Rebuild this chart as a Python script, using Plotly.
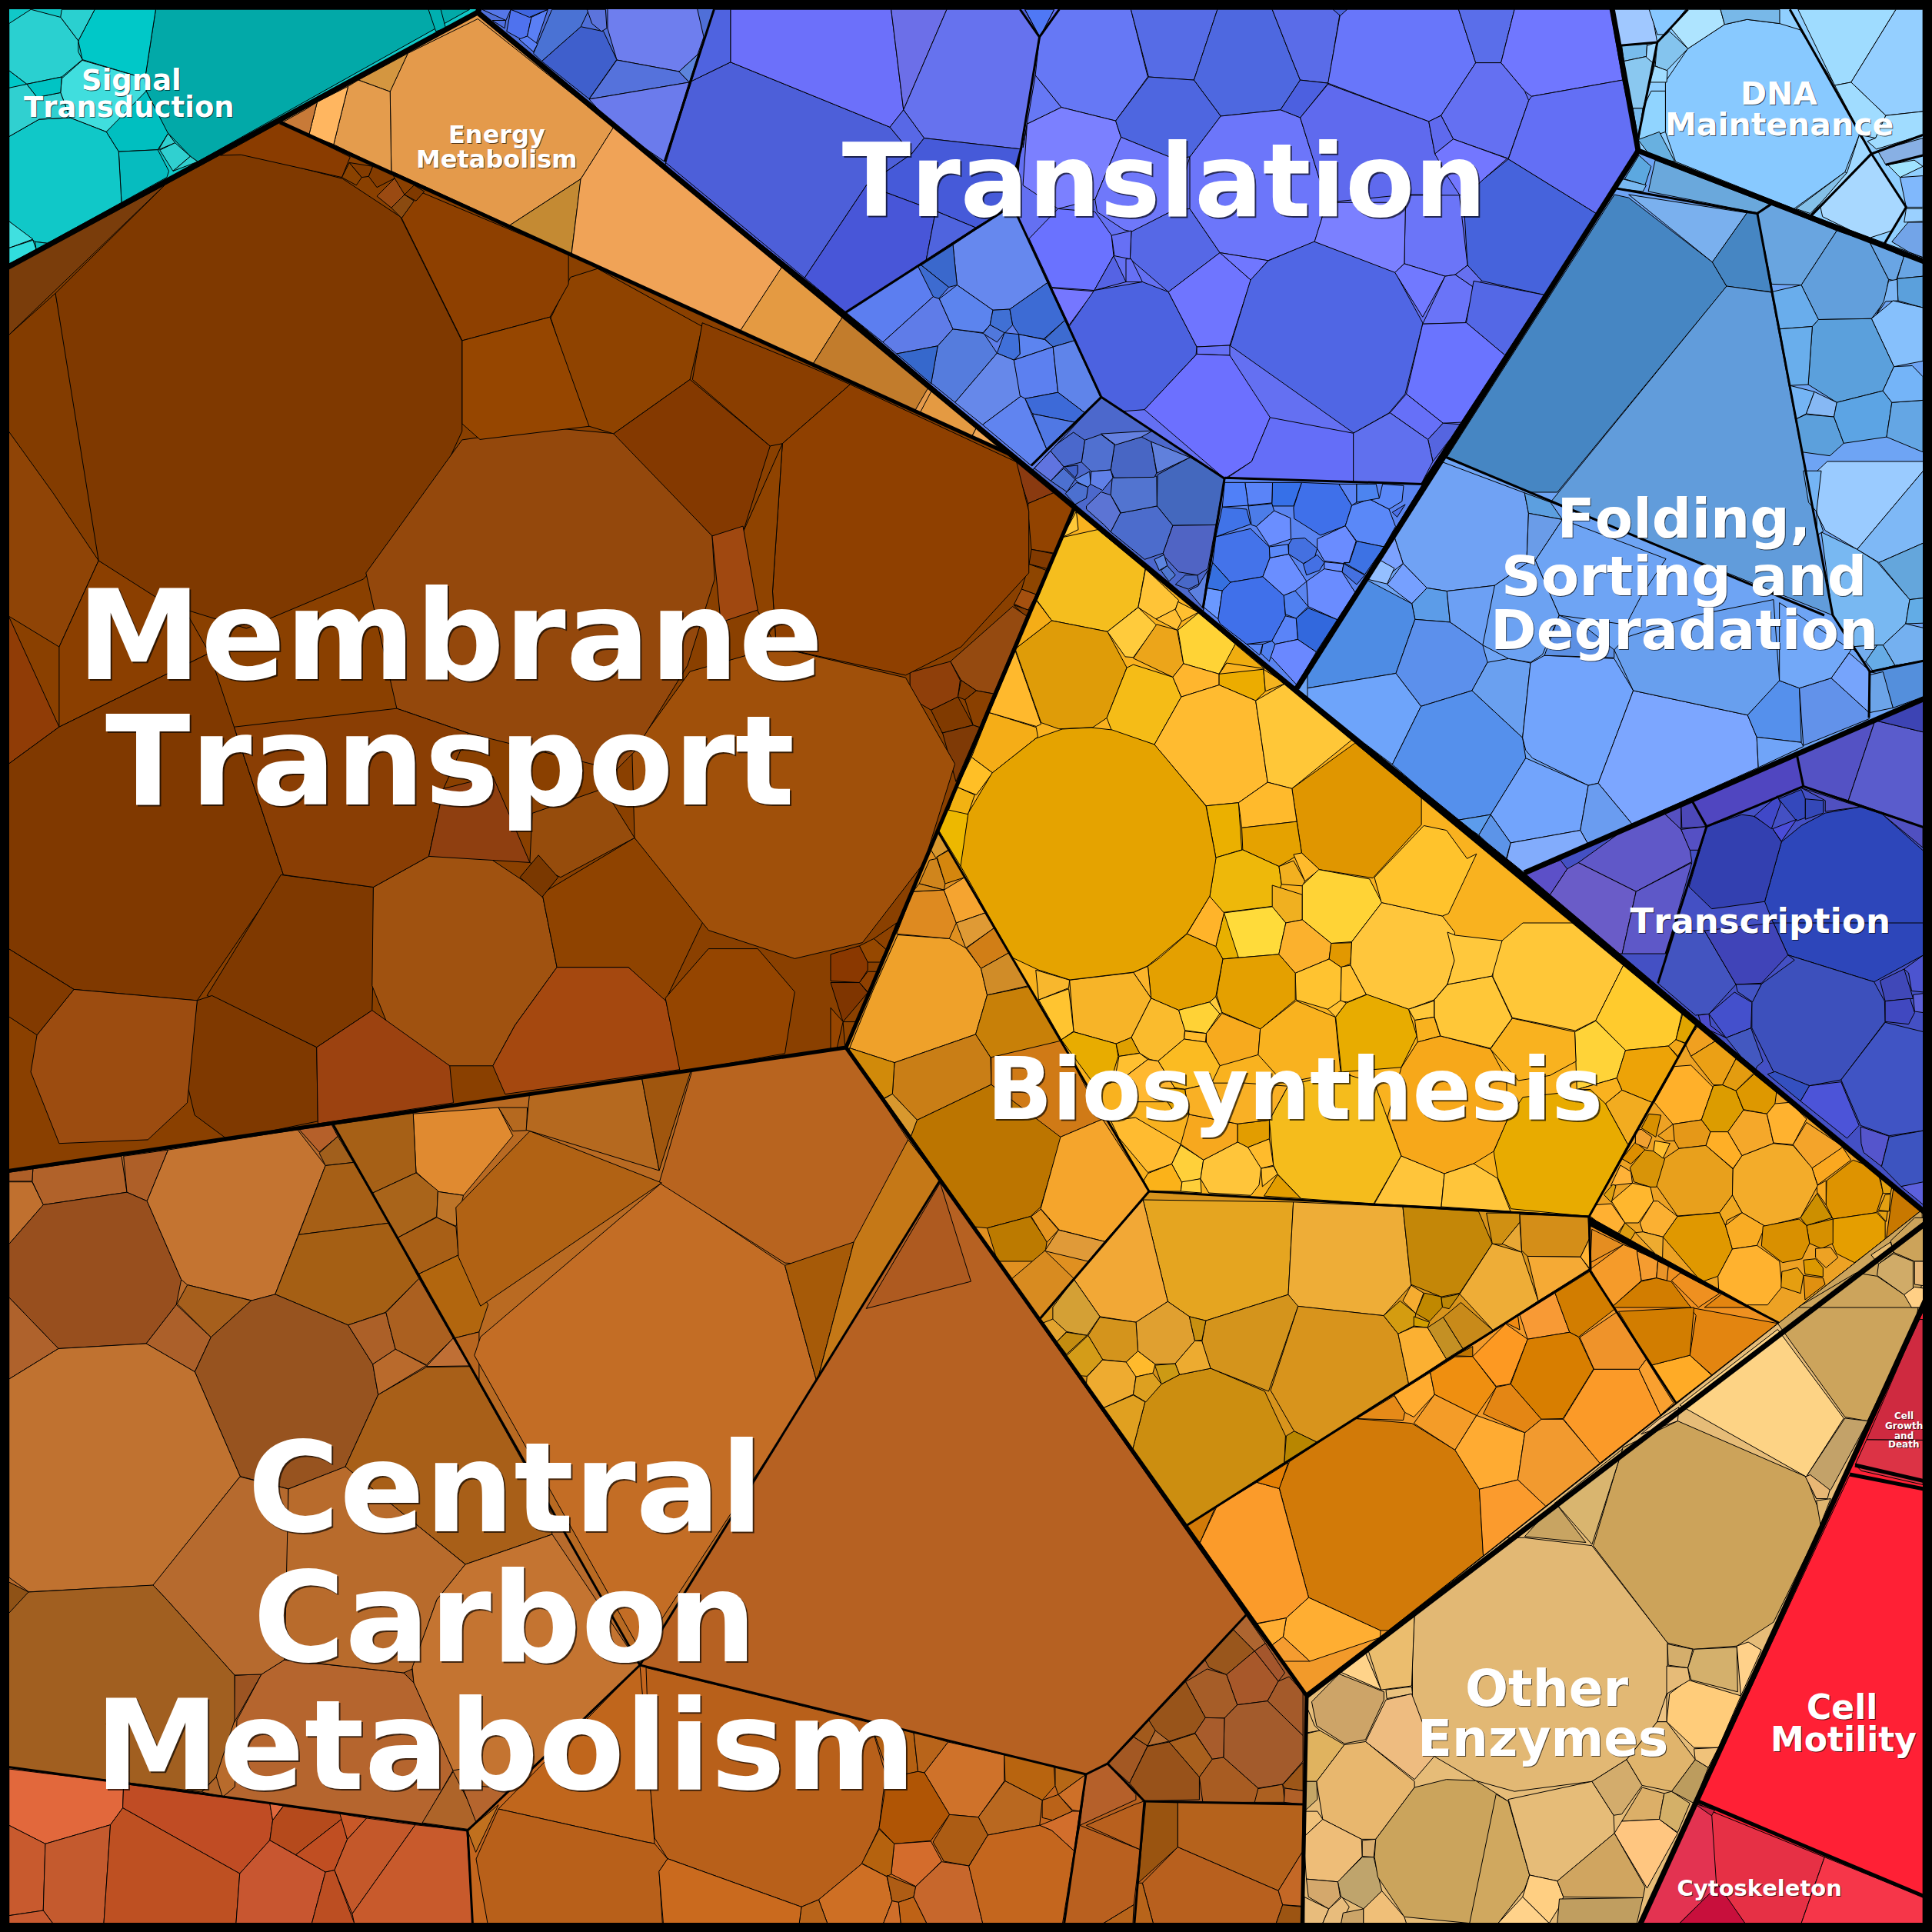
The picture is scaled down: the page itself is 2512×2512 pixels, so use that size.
# voronoi treemap of cell functions, cell outlines
import plotly.graph_objects as go

# crop panels the outlines were read from: x0, y0, x scale, y scale
panels = {
    "f": (0, 0, 1, 1), "m": (0, 0, .6242, .6242),
    "z1": (0, 0, 1.867, 2.45), "z2": (840, 0, 1.867, 2.45), "z3": (1680, 0, 1.885, 2.45),
    "z4": (1200, 560, 2.376, 2.45), "z5": (1700, 600, 1.931, 2.45), "z6": (1080, 1000, 1.867, 2.45),
    "z7": (1900, 1200, 2.562, 3), "z8": (1300, 1520, 1.96, 2.45), "z9": (1680, 1700, 1.885, 1.931),
    "z10": (0, 1440, 1.867, 2.45), "z11": (0, 2080, 1.867, 3), "z12": (840, 2080, 1.782, 3),
}

signal_z1 = [
    "#02a9a8 378,30 1140,30 480,515 462,498 405,420 355,290 352,250",
    "#00b0b0 1040,30 1070,30 1082,90 1058,100",
    "#00c8c8 230,30 378,30 352,250 200,190 190,130",
    "#2ad0d0 150,30 230,30 190,130 147,55",
    "#2ad0d0 22,75 75,30 147,55 190,130 190,165 200,190 150,245 65,268 22,225",
    "#40dede 200,192 150,250 147,295 170,375 258,420 330,340 355,290 352,250",
    "#00bfc0 258,420 355,290 408,425 383,477 288,483",
    "#06bcbf 288,483 383,477 410,545 405,565 295,645",
    "#10c8c8 22,435 95,380 170,375 258,420 288,483 295,645 115,775 85,770 22,705",
    "#30d0d0 22,275 65,268 90,310 147,295 170,375 95,380 22,435",
    "#00c8c8 22,225 65,268 22,280", "#00c4c4 65,268 150,245 147,295 90,310",
    "#40e0e0 22,705 80,762 22,790", "#30dddd 22,790 80,765 88,795 22,840", "#10c0c0 85,770 115,775 88,795",
    "#30cfcf 408,425 425,455 385,477", "#30d0d0 425,455 462,498 420,545 388,478", "#30d0d0 462,498 480,515 420,545",
]
energy_z1 = [
    "#e49a4b 990,170 1160,60 1490,405 1410,570 1237,718 950,545 947,290",
    "#d49640 870,255 990,170 947,292",
    "#e49c4d 845,275 870,255 947,292 950,550 810,460",
    "#ffb660 770,325 845,275 810,460 750,430",
    "#c87a38 740,350 770,325 750,430 685,390",
    "#c48a33 1237,718 1410,570 1387,810",
]
energy_f = ["#f0a357 798,165 1017,347 962,431 743,331 755,233"]
energy_z2 = [
    "#e49a42 330,850 478,1008 405,1160 228,1055",
    "#c27c2c 478,1008 685,1235 652,1310 405,1160",
    "#e49a42 695,1240 803,1360 790,1393 665,1315",
    "#f0a855 803,1360 890,1460 790,1393",
]
membrane_m = [
    "#7a3d0b 7,218 134,150 7,272",
    "#833c00 7,272 45,238 75,400 80,455 45,490 7,350",
    "#8f4406 7,350 43,400 80,455 48,525 7,500",
    "#903c06 7,500 48,590 7,620",
    "#8b3f00 80,455 150,495 170,530 48,590 48,525",
    "#7f3900 180,125 200,125 278,145 325,176 375,277 375,350 345,415 295,470 200,510 135,490 80,455 45,238 134,150",
    "#803900 7,620 48,590 170,530 190,590 230,710 160,812 60,803 7,770",
    "#7f3900 228,710 303,720 303,782 302,820 257,850 185,815 168,808",
    "#a05210 303,720 348,695 395,695 440,725 452,785 418,832 400,865 365,865 318,840 302,800",
    "#7f3900 160,812 172,808 257,850 258,910 185,925 158,905 152,880",
    "#9c4c10 30,840 60,803 160,812 152,895 120,925 48,928 25,870",
    "#823a00 7,770 60,803 30,840 7,825",
    "#9c4210 257,850 302,820 365,865 368,895 258,912",
    "#a5480f 418,832 452,785 510,785 540,810 552,868 410,888 400,865",
    "#8f4300 440,725 515,680 572,745 540,812 510,785 452,785",
    "#954500 540,810 575,770 615,770 645,805 637,855 552,870",
    "#a0500a 630,525 735,550 775,620 750,700 700,765 645,778 575,755 515,680 513,610 560,545",
    "#94480c 297,465 375,357 445,347 500,352 578,435 580,470 558,540 515,610 500,625 380,595 322,575",
    "#8f4300 447,258 463,225 485,218 570,265 560,308 498,352 475,345",
    "#843900 498,352 560,308 625,362 603,432 578,435",
    "#8a3e00 570,262 658,298 690,312 635,360 625,362 562,308",
    "#8f4000 635,360 690,312 825,375 835,415 835,465 780,525 735,548 630,525 627,480",
    "#8f4300 603,432 635,360 627,480 630,525 612,490",
    "#a04810 578,435 603,427 615,495 585,505",
    "#8a3e04 190,590 322,575 380,595 360,640 348,695 303,720 230,710",
    "#8f3f10 348,695 360,640 400,630 430,700",
    "#964c0c 430,700 432,660 490,640 515,680 455,712",
    "#7a3800 422,712 437,694 453,712 440,728",
]
membrane_z1 = [
    "#8e4000 975,695 1122,1085 1335,1010 1380,905 1380,810 1000,600",
    "#964600 1122,1085 1310,1020 1335,1010 1430,1358 1165,1400 1122,1350",
    "#8a3c00 535,495 585,493 830,565 850,500 680,390",
    "#8a4200 830,565 848,518 878,565 865,590", "#843c00 848,518 905,530 895,562 878,565",
    "#843c00 905,530 950,545 958,568 915,597 895,562", "#9a4a12 915,625 958,568 982,620 950,662",
    "#8a4a10 950,662 982,620 1005,640 975,695", "#7f3900 982,620 1005,590 1030,610 1010,640",
]
membrane_z4 = [
    "#8a3a10 283,100 325,232 410,195 300,90",
    "#924300 325,232 410,195 465,250 405,390 335,378 325,260",
    "#823a00 335,378 403,392 385,440 328,425", "#8e4500 328,425 382,445 350,522 305,505",
    "#a5500f 305,505 350,522 325,572 282,552", "#7f3900 280,555 328,572 318,592",
    "#954a10 277,560 320,590 218,838 165,828 118,795 85,735",
    "#8f3f0a -40,770 85,735 115,795 108,848 25,890 -40,850",
    "#7f3900 118,795 165,828 130,857 108,848",
    "#803a00 25,890 108,848 155,938 60,963", "#8a4000 130,857 165,828 218,838 175,945 155,938",
    "#7f3a06 60,963 155,938 175,945 102,1118 60,960",
]
membrane_z6 = [
    "#8a3800 0,590 70,563 90,610 90,640 70,680 0,675", "#8f4000 70,680 90,645 118,645 90,710",
    "#7f3500 0,680 70,680 90,712 30,805", "#904500 30,805 60,805 35,885", "#964500 0,760 30,805 15,890 0,890",
    "#964800 70,563 105,540 135,575 120,615 90,615", "#8e4200 105,540 160,490 135,575",
]
t1_f = [
    "#6e7eee 790,37 790,0 904,0 915,48 907,71 883,93 802,78", "#5572dc 802,78 883,93 896,107 766,129",
    "#6b7bec 766,129 896,107 864,210 798,165",
]
t1_z2 = ["#5c84dc 80,228 127,172 105,262"]
t1_z1 = [
    "#3f5fcc 1315,195 1410,85 1465,100 1497,190 1430,315",
    "#4a72d4 1295,170 1340,30 1430,30 1410,85 1315,195", "#5c74dc 1425,30 1470,30 1473,90 1460,100 1437,75",
    "#4f72ee 1230,100 1240,30 1290,55 1280,115 1265,125", "#5a7ff5 1280,115 1290,55 1330,30 1295,165",
    "#5a7ff5 1260,125 1280,115 1305,140 1295,165", "#3f66e0 1240,30 1330,30 1285,55",
    "#5577e8 1170,30 1240,30 1228,65", "#5070e0 1195,65 1228,65 1225,90",
]
t2_z2 = [
    "#4d5fd9 45,515 105,262 205,198 592,405 645,490 535,590 385,885",
    "#6c70fa 205,30 595,30 625,350 592,405 205,198", "#6c6fe8 595,30 730,30 625,350",
    "#6672ee 730,30 908,30 955,118 910,475 675,440 625,350", "#4f63e0 165,30 205,30 205,198 105,262",
    "#5868e6 625,350 675,440 645,490 592,405", "#465ad9 535,590 645,490 675,440 910,475 870,670 800,725 703,672",
    "#4856d8 385,885 535,590 703,672 680,828 485,995", "#4f64de 703,672 800,725 680,828",
]
ttop_z2 = ["#4f78f5 908,30 1003,30 955,118"]
t3_z2 = [
    "#6678f5 1003,30 1177,30 1218,245 1140,385 1008,342 945,240 955,118", "#566ce6 1177,30 1387,30 1330,255 1220,245",
    "#4e68e0 1387,30 1520,30 1568,190 1588,255 1540,350 1395,370 1330,255", "#5a6ce8 1520,30 1686,30 1656,265 1588,255 1568,190",
    "#4c60e0 1588,255 1656,265 1588,375 1540,350", "#6678f5 945,240 1008,342 925,395 915,470",
    "#7b80ff 925,395 1008,342 1140,385 1153,437 1090,635 1000,665 915,590",
    "#4e66e0 1153,437 1280,505 1320,500 1395,370 1330,255 1220,245 1140,385",
    "#6f78fa 1153,437 1280,505 1320,500 1280,670 1180,738 1160,732 1095,675 1090,635",
    "#5668e6 1178,738 1280,670 1320,665 1393,805 1268,930 1175,825",
    "#6c76fa 1395,370 1540,350 1588,375 1653,645 1623,770 1510,830 1393,805 1320,665 1320,500",
    "#6a72ff 930,760 1000,665 1090,675 1130,750 1135,815 1088,925 985,915",
    "#6670f5 1130,750 1178,735 1175,825 1137,815", "#5563e4 1088,925 1135,815 1165,898",
    "#6670f5 1165,825 1178,825 1205,898 1165,898", "#7577ff 985,918 1088,928 1027,1035",
    "#4c62e0 1027,1040 1088,925 1205,898 1268,930 1337,1105 1335,1130 1210,1305 1160,1310 1103,1265",
    "#6f75ff 1268,930 1393,805 1468,892 1417,1100 1337,1105", "#7077ff 1393,805 1510,830 1468,892",
    "#6670f5 1337,1105 1417,1100 1417,1132 1337,1128", "#6c70ff 1210,1305 1337,1128 1417,1132 1515,1330 1470,1470 1405,1525",
]
t3_f = ["#5066e4 1600,449 1626,364 1649,339 1709,314 1814,354 1850,420 1827,512 1806,537 1760,563 1599,449"]
t3_z3 = [
    "#6876fa 120,30 408,30 450,200 365,368 335,387 88,265", "#5a6eea 408,30 545,30 512,200 450,200",
    "#7077ff 545,30 780,30 810,255 587,307 570,290 512,200",
    "#4a64e0 100,30 135,30 118,50",
    "#5f6aee 20,375 88,268 335,387 350,490 375,490 335,620 278,620 85,645",
    "#6470f2 365,368 450,200 512,200 570,290 580,320 530,505 395,443", "#5f6aee 335,387 365,368 395,443 350,490",
    "#7377ff 350,490 395,443 527,505 470,570 425,630 410,620 380,560", "#636ff5 587,307 810,255 848,480 745,680 530,507 580,320",
    "#4663dc 470,570 530,507 745,680 620,940 465,895 430,845 420,630", "#6b75f8 278,622 410,622 430,845 400,875 375,880 275,840",
    "#7b80ff 55,770 85,645 278,645 275,840 252,868", "#7179ff 252,868 275,840 375,880 320,1010",
    "#6a74f8 375,880 400,875 445,915 425,1028 320,1032", "#6670f0 400,875 430,845 465,895 445,915",
    "#5468e6 445,895 620,940 525,1135 427,1028", "#6a74ff 320,1032 427,1028 525,1135 420,1345 370,1348 280,1255",
    "#6670f8 280,1255 370,1348 333,1400 240,1315", "#5565e0 333,1400 370,1348 415,1352 345,1470",
    "#6070ee 150,1380 240,1315 333,1400 345,1470 315,1545 150,1535", "#646ef8 -54,1330 150,1380 150,1535 -165,1528 -99,1470",
]
t4_z2 = [
    "#6688ee 745,780 870,670 895,670 975,900 883,985 842,988 755,908", "#3a68cc 668,845 745,780 755,908 735,915",
    "#3d6bd0 660,848 668,845 735,915 710,952 695,945", "#5c7ef0 485,995 660,848 697,945 575,1090",
    "#5f7ce8 575,1090 697,945 712,952 745,1048 708,1102 608,1127", "#557cdd 708,1102 745,1048 820,1062 852,1125 750,1282 692,1220",
    "#3668cc 608,1127 708,1102 692,1222", "#5c84ee 712,952 755,908 842,988 835,1035 818,1060 745,1048",
    "#4070d4 842,988 883,985 890,1035 870,1062 835,1035", "#3d6bd4 883,985 975,900 1017,1020 965,1080 905,1065 890,1035",
    "#3d6bd0 1017,1020 1040,1085 988,1105 968,1080", "#4070da 870,1060 905,1065 908,1128 893,1147 852,1125",
    "#5c84f0 905,1065 968,1082 988,1105 893,1147 908,1128", "#6688ea 852,1125 893,1147 910,1262 817,1353 750,1282",
    "#5c80f0 893,1147 988,1105 1000,1250 920,1270 908,1262", "#5f84ea 988,1105 1040,1085 1103,1265 1065,1315 1000,1250",
    "#3d6ad8 920,1270 1000,1250 1065,1315 1040,1345 938,1318", "#5078e4 938,1318 1040,1345 972,1430",
    "#6084f0 817,1353 910,1262 920,1270 972,1430 935,1483", "#5078dc 835,1035 870,1060 852,1090 818,1062",
]
t5_z4 = [
    "#4468be 725,140 825,85 932,150 905,300 772,302 723,240", "#4c6ccc 610,262 723,240 772,302 742,390 685,410 580,322",
    "#5274d0 585,150 722,145 723,240 612,262 580,205", "#4866c4 592,45 675,20 705,35 722,135 715,148 590,150 580,125",
    "#6080dc 705,35 825,85 723,135", "#6480e0 550,10 595,45 675,20 710,0", "#5070d0 500,30 550,12 592,45 580,125 520,130 490,100",
    "#4a68cc 390,60 465,5 500,30 490,100 435,115", "#6074e0 335,112 392,62 435,115 395,160", "#4c70d0 395,160 435,120 470,155 445,195",
    "#4060c8 437,115 478,110 478,135 470,150", "#5c84e8 470,155 515,130 518,170 510,180 480,165", "#6080e8 520,130 580,125 587,150 555,190 517,170",
    "#4c70d0 440,200 475,165 510,180 505,215 470,235", "#5c74d4 505,240 550,195 580,205 610,262 580,322 560,300 505,250",
    "#5064c4 742,390 772,302 905,300 880,440 848,460 790,450 745,400", "#4868c8 780,490 810,460 848,460 853,488 820,505",
    "#5c80e0 850,495 880,445 865,565 820,510", "#5c84e0 715,410 745,395 755,430 730,445", "#5078d0 735,445 755,430 780,460 760,480",
]
t6_z4 = [
    "#3f70ea 1145,245 1170,165 1285,170 1325,238 1305,303 1228,333 1147,280", "#3670e8 1080,165 1170,165 1145,240 1078,240",
    "#5a84f8 995,165 1080,165 1078,230 1005,238", "#5080f8 932,165 995,165 1005,238 925,243", "#4073e8 925,243 1000,250 1012,298 905,338",
    "#4c7ce8 1005,240 1078,232 1085,255 1030,305 1015,300", "#6a8eff 1030,305 1085,255 1135,278 1137,345 1070,368",
    "#4473ea 905,338 1012,312 1070,370 1072,405 1050,465 950,483 895,420", "#3670e0 880,490 895,420 950,483 925,510 870,500",
    "#6a98ff 870,500 925,510 912,600 865,560", "#4070ea 912,600 925,510 950,483 1050,465 1115,525 1120,590 1078,670 1000,680 918,615",
    "#6a8eff 1050,465 1072,405 1130,393 1185,480 1150,510 1115,525", "#5a88f8 1070,370 1128,362 1130,393 1072,405",
    "#4470e0 1130,362 1140,345 1180,342 1218,375 1210,405 1175,423 1130,393", "#6a8cff 1218,345 1305,303 1338,352 1315,425 1240,415 1218,375",
    "#5a88f8 1305,303 1325,238 1380,218 1440,250 1460,305 1425,370 1340,352", "#3d72e4 1340,352 1425,370 1365,458 1300,420 1318,420",
    "#6a8eff 1240,418 1300,424 1295,450 1240,442", "#6a8cff 1185,480 1240,440 1295,450 1335,515 1280,602 1190,560",
    "#5080f0 1115,525 1150,510 1190,560 1153,598 1120,585", "#3268dd 1153,598 1190,565 1280,602 1215,705 1158,665",
    "#5a84f8 1078,670 1120,590 1153,598 1158,665 1088,680", "#6a88ff 1070,715 1088,680 1158,665 1215,705 1155,810",
    "#5a88f8 1000,680 1050,680 1040,715", "#5080f0 1050,680 1078,670 1088,680 1070,735 1045,710",
    "#4470e4 1175,425 1218,395 1240,420 1225,445 1185,460", "#4470e0 1300,424 1340,445 1365,460 1340,490 1295,450",
    "#5a88f8 1380,218 1410,215 1420,170 1485,175 1480,225 1440,250", "#5a84f4 1285,170 1340,170 1340,228 1325,238",
    "#4c84f0 1340,170 1400,170 1410,215 1340,228", "#4c70e8 1450,260 1490,235 1465,275",
]
folding_z3 = [
    "#6aa8dc 873,610 890,510 1170,650 1140,678", "#5ca8e0 815,570 850,495 880,530 865,590", "#78b8f0 810,570 868,590 860,610 795,600",
    "#4686c3 380,1455 790,620 825,630 1030,835 1065,912 650,1568 578,1568", "#7ab0ee 825,620 1115,678 1030,835",
    "#4686c3 1030,835 1115,678 1140,680 1175,930 1065,912",
    "#69a5e0 1140,680 1175,650 1335,735 1248,908 1175,905", "#629fdc 1335,735 1415,770 1462,890 1452,960 1420,1015 1290,1018 1248,908",
    "#69a5e4 1415,770 1500,818 1480,895 1462,890", "#69a5e4 1500,815 1546,835 1546,880 1483,888", "#5ba0dc 1483,888 1546,880 1546,980 1485,958",
    "#7cb6f4 1462,895 1483,890 1485,958 1455,960 1428,1010 1450,960", "#86c0fc 1420,1015 1473,958 1546,980 1546,1150 1475,1168",
    "#5ba0dc 1290,1018 1420,1015 1475,1168 1448,1245 1335,1282 1265,1225 1275,1040", "#69adec 1175,930 1248,908 1290,1018 1275,1040 1195,1048",
    "#69aeec 1195,1048 1275,1040 1265,1225 1220,1228", "#74b4f4 1220,1228 1280,1248 1260,1318 1235,1335", "#86b8f4 1280,1248 1335,1282 1328,1328 1260,1318",
    "#5ca0dc 1235,1335 1260,1320 1328,1328 1352,1412 1318,1452 1250,1440", "#5ca4e4 1335,1282 1448,1245 1470,1282 1457,1392 1352,1412 1328,1328",
    "#64a6e4 1470,1282 1546,1275 1546,1440 1457,1392", "#74b4f8 1475,1168 1520,1165 1546,1200 1546,1275 1470,1282 1448,1245",
]
folding_f = ["#619cdb 2245,372 2303,380 2383,800 2016,653"]
folding_z5 = [
    "#9acbff 1280,30 1305,0 1546,0 1546,30 1380,280 1300,220 1278,165", "#7eb8f6 1380,280 1546,30 1546,260 1435,322", "#64a6dc 1435,322 1546,260 1546,435 1512,440",
    "#78b8f2 1290,225 1380,280 1430,320 1512,440 1502,517 1445,585 1365,590 1318,490", "#62ace6 1512,440 1546,435 1546,515 1502,517",
    "#74b0f0 1445,585 1502,517 1546,530 1546,635 1475,650", "#66ace6 1400,635 1430,585 1445,585 1475,650 1420,668", "#74adee 1365,590 1430,585 1400,640",
    "#74b4f4 1245,30 1290,30 1278,160 1258,130", "#7ab8f4 1278,160 1295,222 1280,235",
    "#70a2f4 335,0 545,100 555,165 550,325 470,395 350,413 300,403 240,325 218,240 340,0", "#5c9fe0 545,100 610,130 640,185 555,165", "#6a9ce8 555,165 640,185 572,315 550,325",
    "#7ca2ff 218,240 240,325 200,365 183,315", "#94bfff 183,315 218,340 200,390 150,375", "#76a0ff 240,325 300,403 262,453 200,392",
    "#5c9ce8 300,403 350,413 358,512 270,503 262,453", "#6ca0f4 350,413 470,395 470,560 440,585 358,512", "#4e8ce4 150,378 262,453 270,503 222,675 0,722 0,665",
    "#5c90ec 270,503 358,512 440,585 452,640 413,730 285,780 222,675", "#6ea4fa 0,722 222,675 285,780 213,965 0,760",
    "#5590ec 285,780 413,730 540,880 548,945 460,1125 375,1143 213,965", "#6aa0f0 413,730 452,640 505,628 560,642 540,880",
    "#72a4fc 560,642 595,618 770,628 818,730 730,1025 705,1032 565,945 548,920 540,880", "#7ca6ff 818,730 1105,808 1128,878 1132,975 815,1155 730,1025",
    "#689fee 770,600 800,560 975,490 1170,440 1185,700 1105,808 818,730", "#5590ec 1105,808 1185,698 1235,722 1240,895 1128,878",
    "#6292ea 1235,722 1315,690 1410,800 1410,820 1245,905", "#76a4fc 1315,690 1360,610 1410,665 1410,800", "#72a8f8 1185,450 1365,600 1315,690 1235,722 1185,698",
    "#70a4f8 1128,878 1240,895 1245,908 1132,975", "#72a4fc 460,1125 548,945 705,1032 685,1175 510,1215", "#6a9cf0 705,1032 730,1025 815,1155 705,1220 685,1175",
    "#82acfc 510,1215 685,1175 705,1220 545,1312 498,1280", "#5c94e8 430,1190 460,1125 510,1215 498,1270", "#5c9cec 375,1143 460,1125 430,1190",
    "#6ea4f4 572,315 640,185 900,310 835,435 800,520 632,490", "#6ca2f2 470,395 550,325 572,315 632,490 590,615 560,640 505,628 440,585",
    "#5c90e4 632,490 690,520 770,600 770,625 595,618", "#548fdc 1412,670 1475,650 1546,635 1546,750 1470,785 1445,680", "#6ca4e8 1412,680 1445,670 1470,785 1412,800",
]
dna_z3 = [
    "#88c9ff 915,260 970,155 1060,78 1115,62 1195,75 1245,95 1340,290 1390,430 1355,548 1230,665 940,515 915,420 915,350",
    "#aee4ff 925,85 965,30 1050,30 1060,78 970,155", "#78b8e8 1050,30 1195,30 1195,75 1115,62 1060,78", "#84c4ee 895,135 925,100 970,155 918,225 890,210",
    "#9fdcff 1240,30 1480,30 1370,262 1330,272", "#94cfff 1480,30 1546,30 1546,355 1455,368 1370,262", "#a0dcff 1330,272 1370,262 1455,368 1430,440 1395,430",
    "#a0dcff 1455,368 1546,355 1546,430 1432,475 1410,450 1430,440", "#88b0e4 1435,480 1546,440 1546,495 1455,525", "#a8d8ff 1420,490 1505,660 1470,735 1410,760 1300,690 1295,660",
    "#84c0e8 1235,665 1355,548 1365,555 1270,680", "#a0d8ff 1360,550 1390,430 1420,485 1295,655 1270,685", "#a0e4ff 1460,525 1525,510 1546,530 1490,565",
    "#80b8fc 1490,565 1546,560 1546,660 1505,660", "#9ad0ff 1505,665 1546,665 1546,705 1500,708", "#72a4e8 1470,770 1510,708 1546,708 1546,830",
    "#a0c8ff 785,30 880,30 895,135 803,145 788,70", "#78bcec 808,145 870,140 868,180 813,195", "#8ac8f0 813,195 868,180 888,205 878,262 860,345 830,345",
    "#a0d8ff 870,145 895,135 888,205 868,182", "#78bcec 835,345 860,345 848,440", "#90d4ff 850,445 860,345 880,290 915,290 915,420 850,450",
    "#68b0e0 848,445 900,420 938,515 880,500", "#a0dcff 878,262 888,210 920,225 918,262", "#88c8ff 875,30 965,30 915,110 895,110",
]
trans_z5 = [
    "#5046c0 965,1080 1228,930 1245,1035 1002,1163", "#5452c4 1228,930 1425,825 1358,1080 1245,1035", "#5a5ccc 1425,825 1546,862 1546,1165 1358,1080",
    "#3d44b4 1425,825 1500,785 1546,752 1546,862", "#6058c8 815,1155 895,1120 938,1172 960,1235 965,1275 825,1370 680,1278",
    "#6a5cc8 608,1382 652,1298 680,1278 825,1370 790,1568 780,1568", "#5c50c8 545,1315 635,1270 652,1298 608,1382", "#5e58c8 825,1370 965,1278 900,1568 790,1568",
    "#5550c0 895,1120 938,1090 938,1172", "#4c48b8 938,1090 965,1080 1002,1163 940,1168", "#5550c4 938,1172 1002,1163 982,1238 960,1238",
    "#2d46ba 1190,1212 1240,1160 1300,1120 1390,1100 1440,1120 1546,1240 1546,1568 1200,1568 1148,1402", "#3340b0 958,1355 1003,1163 1090,1125 1120,1130 1168,1170 1190,1212 1148,1402 1015,1425",
    "#4048c8 1122,1130 1180,1065 1188,1090 1165,1170", "#3448bc 1183,1075 1240,1045 1250,1075 1250,1135 1228,1145 1198,1100", "#4a4cd8 1168,1170 1228,1140 1190,1210",
    "#3448b8 1250,1075 1295,1080 1295,1120 1250,1140", "#5050c0 1240,1040 1545,1165 1545,1230 1440,1120 1390,1100 1300,1115 1300,1080",
]
trans_z7 = [
    "#2d46ba 1040,0 1540,0 1540,125 1375,230 1088,125", "#4354c0 655,235 710,30 810,30 915,240 825,355 780,360", "#4044b8 810,30 1040,0 1088,125 1000,235 915,240",
    "#3d50bc 1088,125 1375,230 1410,305 1412,385 1265,612 1160,635 1040,580 968,410 968,310 1000,238 1110,145", "#4354c4 915,240 1000,238 970,308 920,268",
    "#4450cc 825,355 910,270 968,310 965,410 882,448", "#4c4ccc 790,360 825,355 830,400 882,448 830,420 800,400", "#4358c0 882,448 965,410 1005,540 985,560 975,585",
    "#3450c0 1045,580 1160,635 1130,695 1020,590", "#4c54d8 1160,635 1265,620 1325,790 1285,840 1130,695", "#4054c4 1265,612 1412,388 1540,425 1540,810 1425,830 1330,790",
    "#5555cc 1330,795 1425,832 1400,950 1340,895 1332,860", "#3d54c0 1425,835 1540,810 1540,1015 1465,1028 1400,950", "#5c60dc 1465,1028 1540,1010 1540,1100",
    "#4048b8 1395,225 1475,180 1495,255 1505,295 1412,305", "#4048c0 1412,305 1495,295 1510,350 1490,395 1412,385", "#5c60d8 1505,280 1540,275 1540,350 1510,345",
    "#4c54d0 1475,180 1540,125 1540,270 1500,265 1490,195",
]
yellow_f = [
    "#e5a300 1290,1005 1347,960 1381,948 1419,946 1446,949 1501,968 1568,1048 1581,1116 1573,1165 1543,1214 1492,1256 1474,1264 1391,1274 1350,1261 1316,1245 1249,1126 1259,1057",
    "#f7a81a 1843,1355 1873,1347 1938,1364 1959,1403 1959,1458 1942,1497 1916,1513 1878,1526 1822,1503 1804,1453 1822,1388",
    "#ffc738 1882,1280 1940,1269 1966,1324 1938,1363 1873,1347 1865,1322 1865,1300",
    "#ffc83c 1882,1212 1892,1216 1953,1223 1940,1269 1882,1280 1891,1249",
    "#ffc53a 1874,1569 1878,1526 1916,1513 1947,1532 1964,1575",
]
yellow_z4 = [
    "#f5be1e 430,340 540,315 687,440 665,562 570,640 398,605 352,540", "#df9c08 398,605 570,640 630,755 568,915 525,945 420,950 365,930 285,695",
    "#ffcb3c 570,640 665,563 722,620 650,722 625,720", "#ffc437 688,440 790,540 780,570 720,600 665,563", "#eca51a 650,725 722,617 785,635 805,742 772,785",
    "#ffbf34 720,600 780,568 800,605 785,635", "#ffc030 780,570 788,545 852,578 800,607", "#ffd336 788,635 852,580 965,680 938,740 915,775 805,742",
    "#f5bc17 630,755 650,745 772,785 798,848 715,1000 583,955 568,915", "#ffb62e 772,785 805,742 915,775 915,810 798,848", "#ecac00 915,775 1052,760 1058,830 1028,860 915,810",
    "#f0ad10 965,680 1055,758 938,740 915,775", "#f5b41f 1052,760 1120,805 1058,830", "#ffbb30 798,848 915,810 1028,860 1065,1120 975,1185 875,1195 715,1000",
    "#ffc738 1028,860 1120,805 1325,985 1140,1140 1065,1120", "#e09600 1140,1140 1335,995 1540,1170 1540,1255 1390,1425 1225,1398 1170,1345",
    "#ffba2c 975,1185 1065,1120 1140,1140 1155,1245 985,1265", "#e5a200 985,1265 1155,1245 1170,1345 1100,1388 988,1335", "#ebb000 875,1195 975,1185 985,1335 905,1360",
    "#eeb80a 905,1360 988,1335 1100,1388 1108,1445 1080,1515 925,1535 885,1490", "#f2b020 1100,1388 1145,1370 1180,1435 1172,1450 1108,1445", "#ffbb2c 1145,1350 1170,1345 1225,1398 1180,1435",
    "#f5ad17 205,898 350,945 355,975 215,1090 150,1040", "#ffb92d 285,700 365,935 350,942 205,898", "#f5ad17 350,540 398,605 285,695",
    "#ffbf26 105,1135 150,1040 215,1090 165,1160", "#f2b212 65,1250 105,1135 160,1160 140,1220", "#edb800 50,1275 65,1205 140,1222 118,1390", "#ffc838 430,340 480,315 475,255",
]
yellow_z6 = [
    "#ffdb3a 952,605 935,560 955,458 1073,438 1105,490 1088,590", "#e8b000 955,458 990,600 952,605 935,565", "#ffb42a 920,405 955,458 935,565 865,525",
    "#f0b020 1072,370 1145,400 1145,480 1105,490 1072,438", "#ffd336 1145,370 1185,320 1308,350 1338,425 1265,550 1215,555 1145,480", "#fbb12d 1105,490 1145,480 1215,555 1210,605 1128,650 1088,590",
    "#e29800 1215,555 1265,553 1262,620 1240,632 1210,605", "#ffc63c 1338,425 1485,468 1515,520 1515,610 1497,685 1465,735 1403,765 1300,718 1262,625 1265,550",
    "#ffc32c 1337,425 1320,345 1440,180 1495,195 1545,285 1568,270 1500,460 1485,468",
    "#ffc330 1128,650 1210,605 1240,632 1238,745 1207,765 1130,735", "#ffc030 1240,630 1262,625 1300,718 1255,742 1238,740", "#ffc030 1207,765 1238,737 1252,745 1226,790",
    "#e4a000 952,605 1088,590 1128,650 1128,735 1043,828 950,775 937,720", "#e4a000 800,600 865,525 935,565 952,605 935,725 920,742 845,768 778,730 770,628", "#fbb42a 735,648 770,628 778,730",
    "#f7b428 580,672 735,648 778,730 730,855 693,875 590,837", "#ffc430 505,735 578,700 590,835 560,862", "#f8b72d 498,640 580,672 578,697 505,735",
    "#fabb2d 730,855 778,730 845,768 860,830 858,860 795,930 775,925 750,905", "#ffd236 845,768 920,742 945,778 912,842 860,832", "#ffcb3a 920,742 935,725 950,775 945,780",
    "#ffbb2c 860,835 912,842 910,870 858,860", "#f7aa1e 912,870 945,945 1038,910 1043,828 950,778 912,842", "#f9b21f 1043,828 1130,738 1225,790 1238,965 1100,1000 1038,910",
    "#e8ac00 1226,790 1252,745 1302,718 1403,765 1423,850 1385,950 1240,965", "#ffc83a 1403,765 1465,738 1465,790 1418,800", "#f9b21f 1418,800 1465,790 1480,850 1425,870",
    "#e8ac00 560,862 590,837 693,875 698,915 690,950 680,1000 640,1005", "#dfa000 693,875 730,855 750,905 700,915",
    "#ffc030 700,915 750,905 770,925 720,975 693,965", "#fbbb22 795,930 858,860 912,870 945,945 925,1000 860,1020 835,1015", "#ffb830 770,925 795,930 835,1015 810,1060 735,1060 720,975",
    "#ffbb30 680,1120 740,1110 850,1195 828,1258 770,1285 700,1175", "#ffd03a 828,1258 850,1198 905,1245 898,1305 853,1318", "#fbb219 770,1288 828,1258 853,1318 850,1345 773,1345 760,1310",
    "#ffcf3a 853,1315 898,1305 900,1350 850,1345", "#ffc53a 905,1245 988,1188 1015,1205 1045,1270 1040,1325 1020,1358 918,1350 898,1305", "#f7a81e 850,1195 870,1100 988,1130 988,1188 905,1245",
    "#e29d00 988,1130 1065,1118 1065,1178 1013,1205 988,1188", "#ffbb2c 1013,1205 1065,1178 1075,1262 1045,1272", "#ffbf30 1045,1272 1075,1265 1085,1290 1048,1330", "#e29d00 1052,1360 1085,1292 1142,1368",
    "#f5bc1c 1065,1118 1110,1010 1235,965 1320,1000 1385,1232 1318,1385 1142,1368 1085,1290 1075,1262", "#ffc53a 1320,1385 1385,1232 1490,1288 1482,1395",
    "#f9b025 860,1020 925,1000 1005,1000 1110,1010 1065,1118 988,1130 870,1100", "#e0a000 795,1015 860,1020 870,1100 830,1085",
]
yellow_z7 = [
    "#ffc738 105,210 170,370 380,420 448,380 540,165 375,0 205,0 135,70 105,150", "#ffcb2d 448,380 540,165 735,352 715,455 690,480 547,497", "#ffd338 378,425 448,382 547,497 518,605 385,650",
    "#f9b21f 170,372 378,425 382,540 295,595 190,615 97,492", "#eda307 518,605 547,497 690,480 722,525 635,700 535,652",
    "#e1a500 715,455 738,352 785,395 745,468", "#f2a719 690,480 715,455 745,470 722,520", "#f2ac20 480,705 535,652 635,700 555,865", "#f9b21f 385,650 518,605 535,652 480,705 455,710 430,650",
    "#e8ab00 108,892 150,775 205,680 430,650 480,705 555,865 425,1145 165,1115 122,995",
]
left_z6 = [
    "#efa12a 38,885 55,845 163,528 288,540 328,570 365,635 380,720 352,845 155,935", "#de8a20 160,525 200,390 275,385 305,490 288,540", "#f5a430 275,385 325,345 375,458 305,490",
    "#df9a35 305,490 375,458 398,505 328,570", "#d17e16 330,570 398,505 433,585 365,635", "#d08c28 365,635 433,585 480,690 380,720", "#c88008 380,720 480,693 560,865 500,925 388,918 352,845",
    "#c97e16 155,935 352,845 388,918 390,1005 210,1118 150,1035", "#d18a0a 38,885 155,935 150,1035 130,1048", "#d8982e 130,1050 150,1035 210,1118 195,1170",
    "#bc7500 195,1170 210,1118 390,1005 560,1170 510,1395 485,1425 380,1462 350,1458", "#d07a16 390,918 560,865 660,1115 558,1172 390,1005", "#f5a52c 558,1172 660,1115 773,1345 665,1505 555,1468 510,1400",
    "#bc7a00 380,1462 485,1425 525,1505 522,1530 500,1568 405,1568", "#e59520 487,1425 510,1402 553,1468 525,1507", "#e09a38 553,1468 665,1505 625,1568 520,1535",
    "#d0851c 215,365 240,290 258,285 278,365 275,385", "#d4860e 258,280 288,258 325,345 278,365", "#d8982e 240,250 260,198 288,255 255,282", "#d0851c 200,390 215,365 275,385",
]
left_z8 = ["#d88b20 30,350 115,260 188,348 100,478"]
gold_z8 = [
    "#e5a520 365,98 748,105 735,400 525,483 483,470 428,422", "#eead37 748,105 1027,120 1048,370 978,467 758,437 735,400", "#c48708 1027,120 1220,135 1255,238 1172,395 1125,407 1048,368",
    "#f2a836 365,98 428,422 347,488 255,470 188,350", "#e0a030 428,422 483,470 497,547 447,620 396,622 352,580 347,488", "#d4941c 525,483 735,400 760,437 685,708 537,635 515,550",
    "#d8941c 760,437 978,467 1015,525 1042,685 808,870 750,835 690,705", "#cc8e10 537,635 675,708 728,850 725,935 475,1135 338,895 370,742 412,685 458,655", "#c89010 483,470 525,483 515,545 497,547",
    "#edab30 497,547 515,548 537,635 458,655 447,620", "#b88600 730,850 750,835 808,870 725,935", "#d4941c 255,472 347,488 352,580 322,615 262,607 225,530", "#d4a035 135,440 188,350 255,470 222,530 170,518 135,480",
    "#c48c10 170,520 222,530 170,590 145,550", "#d49c18 170,595 225,530 262,607 222,660 200,658", "#eeab30 222,662 262,608 322,615 347,660 340,718 262,762 220,690", "#ffba2c 322,615 352,580 396,622 390,650 347,662",
    "#dda020 347,662 390,650 412,685 372,742 340,718", "#cc9a14 395,625 447,620 458,655 412,685", "#e0a020 262,762 340,720 370,742 338,895", "#e2a32e 110,490 135,478 170,518 145,550",
    "#d49c10 978,467 1020,420 1060,460 1055,500 1015,525", "#f5ac30 1027,420 1048,370 1080,395 1060,460", "#c08800 1060,460 1082,395 1125,407 1128,440 1095,485", "#bc8606 1125,410 1172,398 1145,445 1128,440",
    "#d4a000 1055,470 1095,488 1090,505 1055,500", "#fbb032 1015,525 1055,503 1090,505 1138,605 1042,685", "#c49024 1090,505 1130,472 1180,572 1138,605", "#c88a1a 1130,472 1175,425 1258,515 1180,572",
    "#eead37 1172,398 1255,238 1330,265 1372,420 1258,515", "#d09012 1240,140 1325,140 1325,170 1280,240 1255,238", "#e8a835 1325,170 1330,265 1280,238", "#d48e18 1325,145 1500,150 1505,215 1480,280 1345,278 1330,260",
    "#f5aa35 1345,278 1480,280 1503,320 1372,420", "#ffb434 1480,280 1505,215 1505,320",
]
low_z8 = [
    "#d27a08 712,1015 738,932 905,795 1050,810 1160,895 1222,1020 1232,1232 990,1470 970,1470 787,1365", "#fb9b2a 510,1190 553,1075 655,998 712,1018 787,1365 730,1430 652,1448", "#d27a08 470,1135 550,1075 510,1190",
    "#e37e04 655,998 735,935 712,1018", "#ffae32 730,1430 787,1365 970,1470 970,1492 790,1568 722,1490", "#ffae32 650,1450 730,1430 722,1490 690,1520", "#f59c30 690,1520 722,1490 790,1568 715,1568",
    "#e68a18 910,795 1005,722 1032,775 1028,800", "#ffab2f 1005,720 1097,648 1108,718 1055,790 1032,775", "#f49c28 1055,810 1108,718 1215,785 1160,895", "#ef8f10 1108,718 1097,648 1160,598 1205,597 1265,695 1215,785",
    "#bf7400 1160,595 1205,565 1205,597", "#fd9922 1205,597 1288,492 1345,542 1300,685 1265,692", "#f08a12 1290,490 1320,465 1325,512", "#f89a35 1325,465 1415,395 1452,520 1345,542",
    "#d27d00 1415,395 1505,325 1568,445 1475,535 1452,520", "#d87e00 1345,542 1452,520 1475,535 1513,637 1435,795 1380,797 1302,685", "#e48614 1265,695 1302,685 1380,797 1338,840 1232,780",
    "#ffab32 1160,895 1215,785 1338,840 1320,990 1222,1020", "#f29a2f 1338,840 1380,797 1435,797 1530,938 1392,1075 1320,990", "#fb9b2d 1222,1020 1320,990 1392,1075 1232,1235",
]
low_z9 = ["#fb9a28 665,280 740,155 850,155 903,270 755,392", "#ef932a 705,75 795,12 868,130 850,155 740,155", "#f9a030 850,155 868,130 935,240 903,270"]
small_z9 = ["#ffab26 880,145 975,120 1028,170 940,240", "#e38510 975,120 990,20 975,0 1190,40 1030,170", "#d27d00 800,10 985,0 975,120 880,145"]
small_z7 = [
    "#f59b2a 430,1350 540,1255 585,1275 600,1395 505,1495", "#e58d20 435,1195 540,1255 430,1325", "#f59c30 585,1280 655,1315 650,1385 600,1395", "#eb9428 655,1320 690,1335 685,1395 650,1385",
    "#ef9020 700,1395 730,1365 860,1445 790,1500", "#d27d00 500,1500 600,1398 650,1385 700,1400 765,1500", "#e38510 810,1500 870,1445 960,1500",
]
cluster_z7 = [
    "#f0a020 790,400 850,458 765,520 745,470", "#eba015 765,520 850,458 895,490 915,530 870,632 840,632", "#e39c10 915,530 975,585 915,655 870,632", "#ffb02a 710,560 765,555 838,640 800,768 705,785 643,700",
    "#dc9c00 800,768 840,635 870,632 915,655 940,730 888,815 830,815", "#de9800 915,655 975,590 1050,660 1045,705 1018,745 940,728", "#f5a82a 940,730 1018,745 1040,860 935,908 888,815",
    "#ffb22f 1018,745 1045,705 1095,700 1150,765 1105,865 1040,858", "#f4a42a 1105,865 1150,778 1275,875 1168,957", "#faa820 1168,957 1270,875 1298,925 1187,1022",
    "#de9300 1217,1005 1305,925 1385,960 1405,1050 1383,1130 1238,1155 1215,1100", "#f8a820 1185,1025 1215,1005 1215,1100 1185,1050", "#e59e00 1238,1155 1383,1130 1412,1165 1412,1235 1310,1325 1250,1290 1235,1250",
    "#d69000 1150,1180 1238,1155 1238,1250 1200,1270 1160,1250", "#cc8f00 1130,1150 1185,1055 1235,1150 1150,1180", "#c87800 1415,1235 1440,1030 1535,1120",
    "#e0a010 1395,990 1435,1025 1430,1055 1405,1055", "#e4a012 1412,1060 1430,1058 1425,1125 1390,1120", "#e4a012 1385,1125 1420,1125 1415,1165", "#e59818 705,785 800,768 830,815 815,868 725,880 705,840",
    "#e8a01c 650,1025 675,920 725,880 815,868 905,960 903,1062 860,1130 720,1143", "#ffaf26 815,868 830,815 888,815 935,908 905,958", "#f3ac2a 905,960 935,908 1040,860 1105,868 1168,955 1187,1025 1130,1150 1012,1183 935,1130 903,1062",
    "#e09800 720,1145 860,1130 880,1180 903,1272 855,1378 800,1400 672,1225", "#f9ac24 880,1180 935,1130 1012,1183 985,1258 903,1272", "#f0a820 860,1130 903,1062 935,1130 885,1160 880,1180",
    "#d99000 1005,1183 1125,1155 1150,1180 1160,1250 1135,1310 1070,1325 1000,1260", "#ffb22f 855,1378 903,1272 985,1258 1060,1320 1068,1420 1020,1490 860,1490", "#e59e10 1068,1360 1120,1345 1140,1375 1130,1445 1065,1420",
    "#e09010 1140,1375 1205,1385 1212,1410 1145,1470", "#dc9800 1140,1315 1180,1310 1205,1345 1205,1380 1145,1370", "#eda224 1180,1270 1230,1265 1255,1305 1215,1345 1180,1305", "#ffb72e 500,1085 570,1015 630,1030 640,1085 590,1170 545,1170",
    "#ffb032 425,1140 445,1100 500,1095 545,1170 515,1220", "#fbb032 595,1170 640,1085 655,1085 720,1145 672,1225 605,1205", "#eeab30 580,1208 605,1205 672,1225 670,1320", "#dc9c10 525,1215 545,1170 580,1205 560,1245",
    "#d89408 562,955 610,885 640,890 678,920 650,1030 630,1030 575,1010", "#ffb238 498,1025 530,945 565,970 570,1015", "#de8e00 565,940 535,920 580,855 612,885", "#f0a030 580,810 600,805 635,835 620,880 580,860",
    "#d89000 600,800 625,745 665,750 648,835", "#eda020 655,830 705,785 710,850 680,850", "#ffc030 640,890 645,850 695,860 672,918", "#dea010 475,1060 505,1020 515,1025 500,1090",
]
s1_f = [
    "#b66a2e 312,1920 375,1936 375,2080 370,2158 340,2177 305,2178 217,2080 199,2061",
    "#b86b2c 375,1936 449,1907 605,2034 568,2080 536,2170 525,2175 370,2158",
    "#c47431 605,2034 718,1995 832,2165 771,2233 670,2327 600,2300 589,2302 538,2188 536,2168 568,2080",
    "#a15f20 37,2070 199,2061 217,2080 305,2178 305,2237 281,2310 262,2330 0,2297 0,2097",
    "#8f5216 0,2051 37,2070 12,2097 0,2097",
]
s1_z10 = [
    "#b1622a 80,195 295,155 308,270 105,310 78,235", "#ae5f28 300,155 408,135 357,298 308,270", "#ae5f28 22,205 80,195 78,235 22,235", "#c0702f 22,237 78,237 105,310 22,435",
    "#984f1e 22,435 105,310 308,270 357,298 440,548 428,628 355,752 142,768 22,605", "#c47431 357,298 408,135 722,70 790,185 725,405 668,595 612,615 455,565 440,548", "#b5602a 725,68 805,55 820,92 775,142",
    "#a15f1c 775,145 820,92 858,175 790,185", "#a65f16 725,405 790,185 858,175 945,368", "#a55f14 668,595 725,405 945,368 1017,545 935,653 845,693", "#a65f1c 430,625 455,565 610,615 512,732",
    "#ac602a 355,752 428,628 512,732 473,842", "#97531f 473,842 512,732 610,615 668,595 845,693 905,818 918,915 838,1145 700,1215 583,1175", "#ac6028 845,693 937,653 960,770 905,818", "#ab6020 937,653 1017,545 1100,735 1035,820 960,770",
    "#b96a2c 905,818 960,770 1035,822 918,915", "#bf6f35 1035,825 1100,735 1140,823", "#a85f18 918,915 1035,827 1140,825 1340,1295 1340,1360 1130,1455 838,1145", "#af622c 22,605 142,768 22,865",
    "#c07230 22,865 142,768 355,752 473,842 583,1175 372,1522 70,1543 22,1497",
]
s1_z11 = [
    "#9c5422 570,295 635,290 568,480", "#b5652e 635,290 690,235 980,285 1005,325 1100,665 1025,875 540,770 570,730 575,470",
    "#96501c 980,285 1000,265 1005,325", "#ae6429 1100,670 1120,735 1160,860 1135,895 1025,870",
    "#b5652e 1120,720 1250,740 1155,865", "#ae6429 525,690 490,750 540,768",
]
s2_m = [
    "#c36d25 390,1085 537,960 637,1027 663,1122 520,1340 385,1100", "#b8641f 535,960 562,868 687,850 737,925 693,1028 637,1025", "#a65a08 637,1027 693,1008 663,1122", "#c57817 693,1008 737,925 763,958 663,1122",
    "#b16214 370,980 430,918 537,960 390,1060 372,1020", "#b5691f 427,917 430,885 520,870 535,950", "#a0560e 520,870 562,865 535,950",
]
s2_z10 = [
    "#e08a30 1003,20 1210,0 1245,90 1125,280 1063,268 1010,205", "#a66016 808,55 1003,18 1010,208 905,272", "#a9641a 905,272 1010,208 1063,265 1060,348 965,415", "#bd7428 1063,268 1125,280 1107,378 1060,350",
    "#a85f16 965,415 1060,350 1107,380 1113,470 1017,530", "#b2660e 1017,530 1113,470 1185,628 1163,715 1102,735", "#b7651f 1102,735 1163,715 1163,875",
    "#b5691f 1245,75 1278,73 1280,0 1210,0",
]
s3_m = ["#ae5a20 763,960 788,1040 703,1062"]
s4_f = ["#c0661c 832,2165 846,2325 851,2397 840,2395 648,2352", "#b8601a 619,2417 648,2352 840,2395 851,2397 868,2417 857,2433 862,2512 636,2512"]
s4_z12 = [
    "#b8601a 0,265 520,480 555,680 540,890 500,1030 400,1170 360,1198 50,1010 20,930 10,735", "#b46012 520,480 620,515 630,670 565,695", "#b8641a 620,515 700,555 645,675 630,670", "#cf722a 700,555 830,605 830,707 770,848 703,838 645,675",
    "#b8640f 830,605 945,650 948,725 918,782 832,707", "#b66716 948,650 1020,680 955,760 948,725", "#ce7028 955,760 1020,680 1005,825 988,820", "#ba6218 918,782 955,760 988,825 942,860 918,850", "#b96820 770,848 832,707 918,782 912,880 792,918",
    "#d26e2c 912,880 942,860 988,825 1005,825 992,980 940,900", "#b05505 630,670 645,675 703,838 660,940 575,952 540,890 558,695", "#ac5c14 703,838 770,848 792,918 748,1038 690,1020 665,945", "#d46c2c 575,952 660,942 685,1020 625,1118 568,1070",
    "#b5620e 500,1028 540,895 575,952 568,1070 558,1080", "#ce6f24 400,1170 500,1030 558,1080 570,1175 550,1262 420,1262", "#ae5c14 558,1075 625,1120 620,1160 585,1180 570,1175", "#c7672c 625,1118 685,1022 748,1038 780,1262 650,1262 620,1160",
    "#c4661e 748,1040 792,918 912,880 940,900 992,980 965,1262 780,1262", "#be6216 585,1180 620,1160 650,1262 590,1262", "#cf6e2a 570,1175 585,1180 590,1262 550,1262", "#b8641a 360,1198 400,1170 420,1262 355,1262", "#ca6a1e 30,1060 50,1010 360,1198 355,1262 40,1262",
]
s4_z11 = ["#c0701e 1135,900 1210,800 1155,985"]
s5_z12 = [
    "#a65d28 1250,320 1300,270 1345,292 1370,410 1340,462 1296,460", "#99561c 1295,235 1360,115 1410,200 1345,292 1305,265", "#ae6530 1360,115 1390,60 1435,170 1410,200", "#a8582a 1345,292 1410,200 1465,318 1440,395 1370,410",
    "#a4562c 1410,200 1435,170 1480,285 1465,318", "#a45a2a 1465,318 1490,300 1522,360 1522,530 1440,395", "#a35b2c 1340,462 1370,410 1440,395 1522,530 1522,630 1475,720 1418,735 1338,615", "#98541a 1165,470 1250,320 1296,460 1272,520 1212,552 1170,500",
    "#a85c2c 1272,520 1296,460 1340,462 1338,615 1312,622", "#a9601e 1212,555 1272,522 1312,622 1282,692", "#98521a 1120,715 1162,572 1212,555 1282,692 1282,780 1155,785", "#a85c22 1282,692 1312,622 1338,615 1418,735 1415,790 1290,790",
    "#a35823 1070,640 1130,535 1162,570 1120,715", "#a25a1c 1130,535 1165,470 1180,510 1162,570", "#b06a30 1180,510 1212,552 1162,570", "#ac6020 1418,737 1475,720 1480,790 1410,790", "#9c5618 1475,722 1522,635 1522,745 1480,735", "#b06028 1480,735 1522,745 1522,798 1478,790",
]
s6_z12 = ["#b8601e 1020,880 1130,800 1155,785 1145,975", "#b5602a 1020,680 1070,640 1135,760 1135,780 1005,880", "#b9601f 1005,880 1145,975 1130,1190 1060,1262 965,1262", "#b8641a 1060,1262 1130,1190 1128,1262"]
s7_z12 = [
    "#9a5410 1158,785 1232,788 1232,965 1140,1105", "#b5621c 1232,790 1522,798 1520,985 1465,1135 1232,965", "#b8601e 1150,1105 1232,965 1465,1135 1475,1190 1460,1262 1175,1262", "#b8641a 1140,1105 1150,1105 1175,1262 1128,1262",
    "#c46826 1465,1135 1520,985 1520,1195 1475,1190", "#9c5412 1475,1190 1520,1198 1520,1262 1460,1262",
]
s8_z11 = [
    "#e2683c 22,660 300,715 298,812 268,878 110,952 22,880", "#c04c24 298,812 300,718 655,795 662,860 655,938 582,1068", "#c85a2e 22,880 110,952 105,1212 22,1232", "#c45a2e 110,952 268,878 252,1262 128,1262 105,1212", "#be5022 268,878 298,812 582,1068 573,1262 252,1262",
    "#c85630 582,1068 655,938 790,1062 757,1262 573,1262", "#b54a1c 662,860 688,805 825,835 830,855 718,995 655,938", "#c04e22 718,995 830,855 843,935 812,1055 790,1062", "#c85828 825,835 890,852 843,935", "#c4582a 843,935 890,852 1008,878 855,1225 812,1055",
    "#c85a2c 1008,878 1133,900 1148,1262 860,1262 855,1225", "#bc4e22 790,1062 812,1055 860,1262 757,1262", "#c85a30 22,1232 105,1212 128,1262 22,1262", "#e0683c 655,795 688,803 662,860",
]
other_z9 = [
    "#cca45c 1190,40 1544,-245 1546,-80 1530,30 1410,285 1355,275", "#fdd385 950,245 1190,55 1352,278 1260,425", "#cca35a 945,285 1260,425 1295,520 1295,550 1180,790 1090,850 985,858 920,842 738,598 810,352", "#f0c58a 855,318 945,285 948,250 900,280", "#d9b56f 645,490 810,355 735,595",
    "#c8a462 570,575 645,490 720,590", "#c3a269 1260,425 1355,278 1412,285 1320,458 1285,480", "#e8b775 1258,425 1285,480 1312,480 1318,458 1270,420", "#e0b670 1285,485 1320,480 1295,545",
    "#e2b874 300,765 520,578 570,578 735,598 920,842 920,970 895,1040 820,1135 735,1190 545,1215 450,1188 350,1128 295,1000 295,890", "#ebbd6e 180,840 300,770 293,950 218,960", "#ffd38a 118,915 180,868 218,960", "#cda468 48,990 115,920 225,965 225,985 180,1085 128,1095 60,1050",
    "#eac27e 230,960 293,952 295,970 232,982", "#e4b870 35,1000 55,1050 68,1062 35,1068", "#e0b35f 35,1070 68,1062 128,1098 60,1190 30,1190", "#eebc80 180,1090 230,985 293,970 350,1125 300,1185", "#e8b76e 60,1190 128,1098 180,1090 300,1190 300,1205 205,1335 170,1335 75,1285",
    "#c4a666 30,1190 60,1190 62,1235 30,1265", "#f0c27a 30,1265 62,1265 75,1285 28,1330", "#eebd78 28,1330 75,1285 170,1335 172,1378 112,1442 35,1435", "#d9ae70 172,1338 205,1335 200,1380 172,1378", "#bfa46c 112,1442 172,1380 200,1380 220,1465 175,1510 120,1480",
    "#cba45c 205,1335 300,1205 378,1185 450,1188 500,1220 530,1240 582,1425 570,1460 505,1546 435,1546 275,1530 210,1430 202,1380", "#d0a85f 500,1222 530,1240 582,1425 570,1460 505,1546 435,1546", "#e6bc78 530,1235 735,1190 788,1275 790,1320 650,1440 582,1425", "#d3ac6c 735,1190 820,1135 858,1200 808,1272 788,1275",
    "#dcaf68 858,1205 912,1220 900,1285 808,1290", "#ffc680 808,1290 900,1285 945,1320 870,1458 790,1320", "#ffcf82 582,1425 650,1440 665,1480 655,1505 630,1546 565,1480", "#d0a560 650,1440 790,1320 865,1455 860,1482 665,1480", "#c09e60 655,1485 860,1482 845,1546 650,1546",
    "#ffd28a 565,1480 630,1546 505,1546", "#d4b068 912,1220 930,1215 975,1245 945,1318 900,1285", "#bc9c5e 930,1215 988,1135 1020,1155 985,1245", "#e0b46c 820,1135 895,1040 918,1040 988,1135 930,1215 858,1200", "#ffcc7a 918,1040 925,970 970,935 1100,975 1045,1105 985,1105",
    "#d4ae6c 920,845 982,858 970,905 922,898", "#d4b06c 970,905 985,858 1090,853 1092,965 978,935", "#ffd18a 1090,850 1118,840 1150,860 1100,975", "#e6bb78 918,900 970,905 975,935 918,970", "#f0c27a 985,1108 1045,1105 1020,1155 988,1135", "#eec484 895,1040 918,970 918,1040",
    "#d4a86c 35,1435 112,1442 118,1480 90,1510 40,1480", "#e8bc7c 30,1480 90,1510 75,1546 30,1546", "#e8bc7c 90,1510 122,1480 140,1505 120,1546 75,1546", "#cca468 125,1520 175,1510 175,1546 120,1546", "#f0bf78 175,1510 220,1465 275,1530 280,1546 175,1546",
]
other_z7 = [
    "#cca45c 1120,1500 1315,1365 1385,1378 1475,1450 1530,1500", "#e8bc70 1365,1295 1430,1245 1440,1285 1390,1330", "#d0ab68 1390,1330 1440,1290 1505,1320 1505,1440 1475,1450 1385,1375",
    "#cca35a 1440,1285 1430,1240 1510,1150 1540,1150 1540,1320 1510,1320", "#e8b878 1510,1320 1540,1320 1540,1415 1510,1410", "#ffcf85 1475,1450 1510,1420 1540,1425 1540,1500 1500,1500",
]
red_z9 = [
    "#ff2035 1367,420 1546,455 1546,1478 995,1240", "#cf2a40 1408,332 1535,30 1546,30 1546,333", "#dc3345 1408,332 1380,395 1395,410 1546,445 1546,333", "#e33351 985,1240 1040,1270 1045,1450 950,1546 850,1546", "#e63045 1028,1265 1305,1380 1248,1546 1110,1546 1040,1450",
    "#f63649 1305,1380 1546,1480 1546,1546 1248,1546", "#c80f3c 950,1546 1045,1450 1110,1546", "#c42040 985,1245 1036,1262 1028,1276",
]

# region outline, base colour, cells
groups = [
    ("0,0 628,0 621,16 0,353", "#10c8c8", [("z1", signal_z1)]),
    ("621,16 1316,592 364,159", "#e49a4b", [("z1", energy_z1), ("f", energy_f), ("z2", energy_z2)]),
    ("0,353 364,159 1316,592 1396,662 1100,1362 0,1524", "#8a4000", [("z6", membrane_z6), ("z4", membrane_z4), ("m", membrane_m), ("z1", membrane_z1)]),
    ("1352,0 2094,0 2130,196 1847,630 1593,622 1432,516 1319,273 1327,194", "#6470f2", [("z2", t3_z2), ("f", t3_f), ("z3", t3_z3)]),
    ("621,16 628,0 932,0 864,217", "#4f6fd8", [("f", t1_f), ("z2", t1_z2), ("z1", t1_z1)]),
    ("932,0 1326,0 1352,48 1327,194 1306,273 1100,406 864,217", "#4d5fd9", [("z2", t2_z2)]),
    ("1326,0 1377,0 1352,48", "#4f78f5", [("z2", ttop_z2)]),
    ("1306,273 1319,273 1432,516 1341,613 1100,406", "#5f7fec", [("z2", t4_z2)]),
    ("1432,516 1592,622 1564,798 1341,613", "#4c68cc", [("z4", t5_z4)]),
    ("1592,622 1850,629 1686,895 1564,798", "#5a84f0", [("z4", t6_z4)]),
    ("2130,196 2512,339 2512,906 1982,1135 1686,895", "#6ea4f4", [("z3", folding_z3), ("f", folding_f), ("z5", folding_z5)]),
    ("2094,0 2512,0 2512,339 2130,196", "#90cfff", [("z3", dna_z3)]),
    ("1982,1135 2512,906 2512,1584", "#4450c4", [("z5", trans_z5), ("z7", trans_z7)]),
    ("1396,662 2206,1332 2066,1582 1494,1549 1219,1080", "#f9b21f", [("z4", yellow_z4), ("z6", yellow_z6), ("z7", yellow_z7), ("f", yellow_f)]),
    ("1219,1080 1494,1549 1351,1716 1100,1362 1200,1127", "#e09020", [("z6", left_z6), ("z8", left_z8)]),
    ("1494,1549 2065,1581 2068,1650 1542,1984 1351,1716", "#d8941c", [("z8", gold_z8)]),
    ("2067,1652 2179,1824 1699,2205 1542,1984", "#f29a2a", [("z8", low_z8), ("z9", low_z9)]),
    ("2206,1332 2499,1573 2313,1720 2066,1582", "#eda224", [("z7", cluster_z7)]),
    ("2068,1593 2313,1720 2179,1824 2067,1652", "#ef9020", [("z9", small_z9), ("z7", small_z7)]),
    ("0,1526 433,1462 832,2165 608,2380 0,2297", "#b86b2c", [("z10", s1_z10), ("z11", s1_z11), ("f", s1_f)]),
    ("433,1462 1100,1362 1222,1535 832,2165", "#b96a22", [("z10", s2_z10), ("m", s2_m)]),
    ("1222,1535 1620,2100 1440,2293 1412,2307 832,2165", "#b66122", [("m", s3_m)]),
    ("832,2165 1412,2307 1382,2512 615,2512 608,2380", "#c4661e", [("f", s4_f), ("z12", s4_z12), ("z11", s4_z11)]),
    ("1620,2100 1699,2205 1694,2346 1488,2342 1440,2293", "#a35b2c", [("z12", s5_z12)]),
    ("1440,2293 1488,2342 1474,2512 1382,2512 1412,2307", "#b8601e", [("z12", s6_z12)]),
    ("1488,2342 1694,2346 1693,2512 1474,2512", "#b8601e", [("z12", s7_z12)]),
    ("0,2296 608,2380 615,2512 0,2512", "#c85a2e", [("z11", s8_z11)]),
    ("2499,1573 2512,1573 2512,1690 2128,2512 1693,2512 1699,2205", "#e6bc78", [("z9", other_z9), ("z7", other_z7)]),
    ("2512,1680 2512,2512 2128,2512", "#ff2035", [("z9", red_z9)]),
]

wide_lines = [
    "f 0,353 621,16 628,0", "f 621,16 2512,1584", "f 2130,196 1686,895", "f 2094,0 2130,196 2512,344", "f 1982,1135 2512,904",
    "f 2512,1584 1699,2205", "f 2512,1672 2128,2512",
]
medium_lines = [
    "f 0,1524 1100,1362 1699,2205 1693,2512", "f 1396,662 1100,1362", "f 364,159 1316,592", "f 2208,2342 2512,2470", "f 2405,1917 2512,1938", "f 2412,1905 2512,1928",
]
narrow_lines = [
    "z2 165,30 45,515", "z2 908,30 955,118 1003,30", "z2 955,118 910,475 870,670 485,995", "z2 870,670 895,670 1105,1265 1405,1525", "z2 1105,1265 935,1483",
    "z4 932,150 1545,170", "z4 932,150 865,565", "z3 795,600 1140,680 1175,650", "f 2285,278 2345,600 2383,800 2431,873 2430,933", "z5 1412,670 1546,635", "f 1879,594 2372,800",
    "z3 1220,30 1420,490 1270,690", "z3 970,30 895,135 848,440", "z3 803,145 895,135", "z3 1420,490 1505,660 1450,780", "z3 1420,490 1546,430", "z3 1455,525 1546,495",
    "z5 965,1080 1002,1163 900,1568", "z5 1002,1163 1245,1035 1228,930", "z5 1245,1035 1546,1165", "z7 655,235 710,30",
    "f 2206,1332 2066,1582 1494,1549 1219,1080", "f 1494,1549 1351,1716", "f 2066,1582 2068,1650 1542,1984", "f 2068,1593 2313,1720", "f 2067,1652 2179,1824",
    "f 433,1462 832,2165 608,2380 615,2512", "f 1222,1535 832,2165", "f 832,2165 1412,2307 1382,2512", "f 0,2296 608,2380", "f 1412,2307 1440,2293 1620,2100",
    "f 1440,2293 1488,2342 1474,2512", "f 1488,2342 1694,2346",
]

label_text = ["Signal", "Transduction", "Energy", "Metabolism", "Translation", "DNA", "Maintenance", "Folding,", "Sorting and", "Degradation",
              "Transcription", "Membrane", "Transport", "Biosynthesis", "Central", "Carbon", "Metabolism", "Other", "Enzymes", "Cell", "Motility",
              "Cytoskeleton", "Cell", "Growth", "and", "Death"]
label_x = [107, 105, 403, 403, 945, 1444, 1444, 1367, 1367, 1367, 1429, 365, 365, 1051, 410, 410, 410, 1255, 1252, 1495, 1496, 1428, 1545, 1545, 1545, 1545]
label_baseline = [73, 95, 116, 136, 175, 85, 110, 436, 483, 527, 757, 551, 653, 908, 1243, 1348, 1452, 1385, 1425, 1395, 1421, 1539, 1152, 1160, 1168, 1175]
label_size = [37, 37, 32, 32, 131, 41, 41, 72, 72, 72, 45, 162, 162, 112, 163, 163, 163, 66, 66, 44, 44, 29, 12, 12, 12, 12]


def to_pixels(panel, pts):
    x0, y0, kx, ky = panels[panel]
    out = []
    for p in pts:
        x, y = p.split(",")
        out.append((x0 + float(x) / kx, y0 + float(y) / ky))
    return out


def signed_area(poly):
    return sum(poly[i - 1][0] * poly[i][1] - poly[i][0] * poly[i - 1][1] for i in range(len(poly)))


def clip(poly, region):
    # cells spill over their region a little when read by eye, so cut them back
    sign = 1 if signed_area(region) > 0 else -1
    for i in range(len(region)):
        ax, ay = region[i - 1]
        bx, by = region[i]
        side = lambda p: sign * ((bx - ax) * (p[1] - ay) - (by - ay) * (p[0] - ax))
        kept = []
        for j in range(len(poly)):
            p, q = poly[j - 1], poly[j]
            sp, sq = side(p), side(q)
            if (sp >= 0) != (sq >= 0):
                t = sp / (sp - sq)
                kept.append((p[0] + t * (q[0] - p[0]), p[1] + t * (q[1] - p[1])))
            if sq >= 0:
                kept.append(q)
        poly = kept
        if not poly:
            break
    return poly


def add_cell(fig, poly, colour):
    fig.add_trace(go.Scatter(
        x=[p[0] for p in poly] + [poly[0][0]], y=[p[1] for p in poly] + [poly[0][1]],
        mode="lines", fill="toself", fillcolor=colour, line=dict(color="#000000", width=1),
        hoverinfo="skip", showlegend=False))


def add_lines(fig, rows, width):
    for row in rows:
        parts = row.split(" ")
        pts = to_pixels(parts[0], parts[1:])
        fig.add_trace(go.Scatter(
            x=[p[0] for p in pts], y=[p[1] for p in pts], mode="lines",
            line=dict(color="#000000", width=width), hoverinfo="skip", showlegend=False))


fig = go.Figure()
for outline, base, layers in groups:
    region = to_pixels("f", outline.split(" "))
    add_cell(fig, region, base)
    for panel, rows in layers:
        for row in rows:
            parts = row.split(" ")
            poly = clip(to_pixels(panel, parts[1:]), region)
            if len(poly) > 2:
                add_cell(fig, poly, parts[0])

add_lines(fig, narrow_lines, 3)
add_lines(fig, medium_lines, 5)
add_lines(fig, wide_lines, 7)

# black frame, half of it falls outside the axes
fig.add_trace(go.Scatter(x=[0, 2512, 2512, 0, 0], y=[0, 0, 2512, 2512, 0], mode="lines",
                         line=dict(color="#000000", width=24), hoverinfo="skip", showlegend=False))

for text, x, base, size in zip(label_text, label_x, label_baseline, label_size):
    off = 2 if size > 100 else 1
    fig.add_annotation(
        x=x * 1.602, y=base * 1.602 - 0.346 * size, text=text, showarrow=False, xanchor="center", yanchor="middle",
        font=dict(family="DejaVu Sans", size=size, color="#ffffff", weight="bold",
                  shadow=f"{off}px {off}px 0 rgba(0,0,0,0.65)"))

fig.update_xaxes(range=[0, 2512], visible=False, fixedrange=True)
fig.update_yaxes(range=[2512, 0], visible=False, fixedrange=True)
fig.update_layout(width=2512, height=2512, margin=dict(l=0, r=0, t=0, b=0), paper_bgcolor="#000000",
                  plot_bgcolor="#000000", showlegend=False)

# the labels in the picture are set without kerning
page_css = "document.body.style.margin='0';document.head.insertAdjacentHTML('beforeend','<style>text{font-kerning:none}</style>');"
fig.write_html("out.html", post_script=page_css, config={"displayModeBar": False})
